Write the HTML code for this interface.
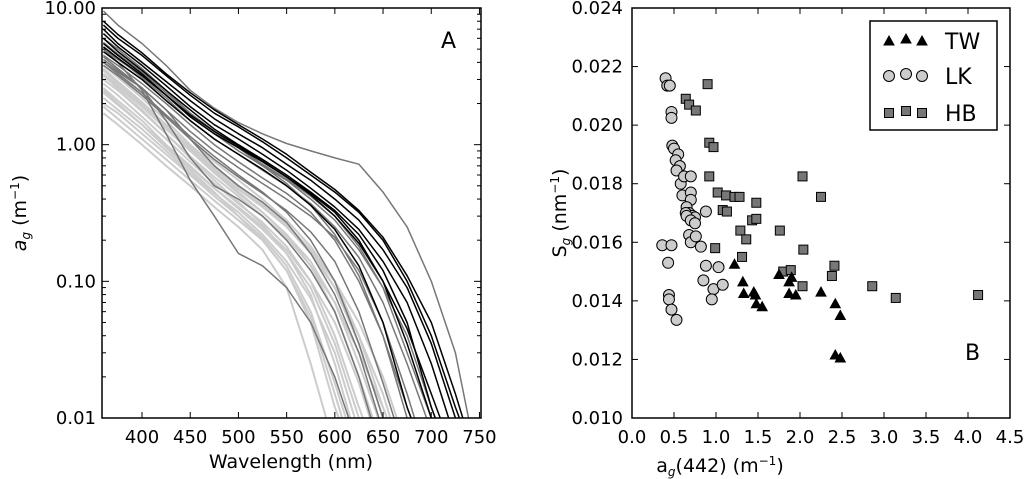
<!DOCTYPE html>
<html><head><meta charset="utf-8">
<style>
html,body{margin:0;padding:0;background:#fff;}
svg{display:block;font-family:"DejaVu Sans","Liberation Sans",sans-serif;}
</style></head>
<body>
<svg id="fig" width="1024" height="479" viewBox="0 0 1024 479">
<defs>
<clipPath id="clipA"><rect x="102" y="8" width="379" height="410"/></clipPath>
<clipPath id="clipB"><rect x="632" y="8" width="378" height="410"/></clipPath>
</defs>
<g id="panelA"></g>
<g id="panelB"></g>
</svg>
<script>
// ---------- Panel A data ----------
const wavelengths = [360,375,400,425,450,475,500,525,550,575,600,625,650,675,700,725,750];
const darkCurves = [
 [7.5,6,4.5,3.2,2.3,1.7,1.35,1.05,0.8,0.6,0.45,0.32,0.2,0.1,0.04,0.012,0.004],
 [6.5,5.2,3.8,2.7,1.9,1.4,1.1,0.85,0.65,0.48,0.35,0.24,0.14,0.07,0.025,0.007,0.003],
 [7,5.5,4,2.9,2.1,1.55,1.2,0.95,0.72,0.55,0.4,0.28,0.17,0.09,0.035,0.01,0.004],
 [5.5,4.5,3.3,2.3,1.6,1.2,0.95,0.75,0.58,0.43,0.3,0.19,0.1,0.045,0.015,0.005,0.003],
 [6,4.8,3.5,2.5,1.8,1.3,1.0,0.78,0.6,0.45,0.33,0.22,0.12,0.05,0.012,0.004,0.003],
 [8,6.4,4.7,3.3,2.4,1.8,1.4,1.1,0.85,0.63,0.47,0.33,0.21,0.11,0.05,0.015,0.004],
 [4.8,4.0,3.0,2.1,1.5,1.1,0.85,0.66,0.5,0.36,0.24,0.13,0.05,0.012,0.004,0.003,0.003],
 [5.2,4.3,3.2,2.3,1.65,1.25,0.98,0.76,0.58,0.44,0.32,0.2,0.1,0.035,0.01,0.003,0.003]
];
const grayCurves = [
 [9.5,7.5,5.5,3.8,2.5,1.85,1.45,1.2,1.02,0.9,0.8,0.72,0.45,0.25,0.1,0.03,0.004],
 [5,4.2,3.2,2.3,1.6,1.2,0.9,0.7,0.55,0.4,0.28,0.17,0.09,0.04,0.012,0.004,0.003],
 [4.5,3.8,2.8,2,1.4,1.0,0.75,0.57,0.44,0.32,0.2,0.1,0.04,0.01,0.004,0.003,0.003],
 [5,4,2.5,1.2,0.55,0.3,0.16,0.13,0.09,0.05,0.02,0.006,0.003,0.003,0.003,0.003,0.003],
 [4,3.4,2.6,1.5,0.8,0.5,0.4,0.3,0.2,0.12,0.06,0.02,0.005,0.003,0.003,0.003,0.003],
 [4.2,3.5,2.6,1.8,1.1,0.7,0.5,0.38,0.27,0.16,0.08,0.03,0.008,0.003,0.003,0.003,0.003],
 [6,5,3.6,2.5,1.7,1.25,0.95,0.7,0.52,0.36,0.22,0.11,0.04,0.012,0.004,0.003,0.003],
 [5.2,4.3,3.1,2.2,1.5,1.1,0.85,0.65,0.5,0.37,0.25,0.15,0.07,0.025,0.008,0.003,0.003],
 [4.4,3.6,2.6,1.8,1.25,0.9,0.68,0.52,0.4,0.3,0.21,0.12,0.05,0.015,0.004,0.003,0.003],
 [3.8,3.2,2.3,1.6,1.1,0.78,0.58,0.44,0.33,0.23,0.14,0.06,0.018,0.005,0.003,0.003,0.003],
 [5.6,4.6,3.4,2.4,1.7,1.25,0.95,0.72,0.56,0.42,0.3,0.18,0.09,0.03,0.01,0.003,0.003],
 [4.0,3.3,2.4,1.65,1.15,0.82,0.6,0.45,0.32,0.2,0.1,0.035,0.01,0.003,0.003,0.003,0.003]
];
const lightCurves = [
 [3,2.5,1.8,1.2,0.8,0.55,0.38,0.26,0.16,0.08,0.025,0.006,0.003,0.003,0.003,0.003,0.003],
 [2.5,2.0,1.4,0.95,0.65,0.45,0.3,0.2,0.12,0.05,0.012,0.004,0.003,0.003,0.003,0.003,0.003],
 [1.7,1.4,1.0,0.7,0.5,0.35,0.25,0.17,0.09,0.025,0.006,0.003,0.003,0.003,0.003,0.003,0.003],
 [2,1.7,1.2,0.85,0.6,0.42,0.3,0.21,0.13,0.06,0.018,0.005,0.003,0.003,0.003,0.003,0.003],
 [3.5,2.8,2,1.4,0.95,0.65,0.45,0.32,0.22,0.13,0.06,0.02,0.006,0.003,0.003,0.003,0.003],
 [2.8,2.3,1.6,1.1,0.75,0.52,0.37,0.27,0.18,0.1,0.04,0.012,0.004,0.003,0.003,0.003,0.003],
 [3.2,2.6,1.9,1.3,0.9,0.62,0.44,0.32,0.22,0.14,0.07,0.025,0.008,0.003,0.003,0.003,0.003],
 [2.2,1.8,1.3,0.9,0.62,0.44,0.32,0.22,0.14,0.075,0.03,0.008,0.003,0.003,0.003,0.003,0.003],
 [3.8,3.1,2.2,1.5,1.0,0.7,0.5,0.37,0.26,0.17,0.09,0.035,0.01,0.003,0.003,0.003,0.003],
 [2.6,2.1,1.5,1.0,0.7,0.48,0.34,0.24,0.16,0.09,0.035,0.01,0.003,0.003,0.003,0.003,0.003],
 [4.2,3.4,2.4,1.6,1.1,0.75,0.55,0.4,0.28,0.18,0.1,0.04,0.012,0.004,0.003,0.003,0.003],
 [3.0,2.5,1.75,1.2,0.82,0.58,0.42,0.3,0.21,0.13,0.07,0.03,0.012,0.004,0.003,0.003,0.003],
 [2.4,1.95,1.4,0.98,0.68,0.48,0.35,0.25,0.17,0.1,0.05,0.018,0.005,0.003,0.003,0.003,0.003],
 [3.3,2.7,1.95,1.35,0.92,0.64,0.47,0.35,0.25,0.16,0.09,0.04,0.015,0.004,0.003,0.003,0.003],
 [1.9,1.55,1.1,0.78,0.55,0.39,0.28,0.2,0.12,0.055,0.015,0.004,0.003,0.003,0.003,0.003,0.003],
 [3.6,2.9,2.05,1.4,0.96,0.67,0.49,0.36,0.26,0.17,0.1,0.05,0.02,0.006,0.003,0.003,0.003]
];
const xTicksA = [400,450,500,550,600,650,700,750];
const yTicksA = [10,1,0.1,0.01];
const yTickLabelsA = ["10.00","1.00","0.10","0.01"];
// ---------- Panel B data ----------
const twX = [1.22,1.32,1.33,1.45,1.47,1.48,1.55,1.75,1.87,1.9,1.87,1.95,2.25,2.42,2.48,2.42,2.48];
const twY = [15.25,14.65,14.25,14.3,14.2,13.9,13.8,14.9,14.65,14.8,14.25,14.2,14.3,13.9,13.5,12.15,12.05];
const lkX = [0.4,0.42,0.45,0.47,0.47,0.48,0.5,0.55,0.52,0.57,0.53,0.58,0.62,0.7,0.6,0.7,0.7,0.65,0.68,0.64,0.72,0.75,0.65,0.7,0.75,0.68,0.7,0.76,0.82,0.88,0.36,0.47,0.43,0.88,1.03,0.85,0.97,1.08,0.95,0.44,0.44,0.47,0.53];
const lkY = [21.6,21.35,21.35,20.45,20.25,19.3,19.2,19.0,18.8,18.6,18.45,18.0,18.25,18.25,17.6,17.7,17.45,17.2,17.0,17.0,16.9,16.85,16.9,16.75,16.65,16.25,16.0,16.2,15.85,17.05,15.9,15.9,15.3,15.2,15.15,14.7,14.4,14.55,14.05,14.2,14.05,13.7,13.35];
const hbX = [0.9,0.64,0.68,0.76,0.92,0.97,0.92,1.02,1.12,1.22,1.28,1.48,1.08,1.13,1.43,1.48,1.29,1.36,1.76,2.03,2.25,0.99,1.31,2.04,1.8,1.89,2.41,2.38,2.03,2.86,3.14,4.12];
const hbY = [21.4,20.9,20.7,20.5,19.4,19.25,18.25,17.7,17.6,17.55,17.55,17.35,17.1,17.05,16.75,16.8,16.4,16.1,16.4,18.25,17.55,15.8,15.5,15.75,15.0,15.05,15.2,14.85,14.5,14.5,14.1,14.2];
const xTicksB = [0,0.5,1,1.5,2,2.5,3,3.5,4,4.5];
const yTicksB = [10,12,14,16,18,20,22,24];

const NS = "http://www.w3.org/2000/svg";
function mk(tag, attrs, parent){const e=document.createElementNS(NS,tag);for(const k in attrs)e.setAttribute(k,attrs[k]);parent.appendChild(e);return e;}

// ----- Panel A -----
const A = document.getElementById('panelA');
const axL=102, axR=481, axT=8, axB=418;
const xA = w => axL + (w-358.5)/(751.6-358.5)*(axR-axL);
const yA = v => axT + (1 - Math.log10(v))*(axB-axT)/3;
const clipG = mk('g',{'clip-path':'url(#clipA)'},A);
function drawCurves(list, color, width, name){
  list.forEach((c,i)=>{
    const d = c.map((v,j)=>(j?'L':'M')+xA(wavelengths[j]).toFixed(1)+','+yA(Math.max(v,0.003)).toFixed(1)).join(' ');
    const p = mk('path',{d:d,fill:'none',stroke:color,'stroke-width':width,'stroke-linejoin':'round'},clipG);
    
    
  });
}
drawCurves(lightCurves,'#cccccc',2,'lk-spectrum');
drawCurves(grayCurves,'#777777',1.5,'hb-spectrum');
drawCurves(darkCurves,'#000000',1.5,'tw-spectrum');
const frameA = mk('rect',{x:axL,y:axT,width:axR-axL,height:axB-axT,fill:'none',stroke:'#000','stroke-width':1.5},A);


xTicksA.forEach(t=>{
  const x=xA(t);
  mk('line',{x1:x,x2:x,y1:axB,y2:axB-6,stroke:'#000'},A);
  mk('line',{x1:x,x2:x,y1:axT,y2:axT+6,stroke:'#000'},A);
  const tx=mk('text',{x:x,y:axB+25,'font-size':18,'text-anchor':'middle'},A);
  tx.textContent=t;
  
  
});
yTicksA.forEach((t,i)=>{
  const y=yA(t);
  mk('line',{x1:axL,x2:axL+7,y1:y,y2:y,stroke:'#000'},A);
  mk('line',{x1:axR,x2:axR-7,y1:y,y2:y,stroke:'#000'},A);
  const tx=mk('text',{x:axL-6,y:y+6,'font-size':18,'text-anchor':'end'},A);
  tx.textContent=yTickLabelsA[i];
  
  
  if(i<3){for(let m=2;m<10;m++){const ym=yA(t/10*m);
    mk('line',{x1:axL,x2:axL+4,y1:ym,y2:ym,stroke:'#000'},A);
    mk('line',{x1:axR,x2:axR-4,y1:ym,y2:ym,stroke:'#000'},A);}}
});
</script>
<script>
// ----- Panel B -----
const B = document.getElementById('panelB');
const bL=632, bR=1010, bT=8, bB=418;
const xB = v => bL + v/4.5*(bR-bL);
const yB = v => bB - (v-10)/14*(bB-bT);
const clipB = mk('g',{'clip-path':'url(#clipB)'},B);
function tri(cx,cy,s,parent){return mk('path',{d:`M${cx},${cy-s} L${cx+s},${cy+s*0.8} L${cx-s},${cy+s*0.8} Z`,fill:'#000',stroke:'#000','stroke-width':1},parent);}
function circ(cx,cy,parent){return mk('circle',{cx:cx,cy:cy,r:5.5,fill:'#cccccc',stroke:'#000','stroke-width':1},parent);}
function sq(cx,cy,parent){return mk('rect',{x:cx-4.5,y:cy-4.5,width:9,height:9,fill:'#777777',stroke:'#000','stroke-width':1},parent);}
hbX.forEach((v,i)=>{const e=sq(xB(v),yB(hbY[i]),clipB);
  
  });
lkX.forEach((v,i)=>{const e=circ(xB(v),yB(lkY[i]),clipB);
  
  });
twX.forEach((v,i)=>{const e=tri(xB(v),yB(twY[i]),5,clipB);
  
  });
const frameB = mk('rect',{x:bL,y:bT,width:bR-bL,height:bB-bT,fill:'none',stroke:'#000','stroke-width':1.5},B);


xTicksB.forEach(t=>{
  const x=xB(t);
  mk('line',{x1:x,x2:x,y1:bB,y2:bB-6,stroke:'#000'},B);
  mk('line',{x1:x,x2:x,y1:bT,y2:bT+6,stroke:'#000'},B);
  const tx=mk('text',{x:x,y:bB+25,'font-size':18,'text-anchor':'middle'},B);
  tx.textContent=t.toFixed(1);
  
  
});
yTicksB.forEach(t=>{
  const y=yB(t);
  mk('line',{x1:bL,x2:bL+6,y1:y,y2:y,stroke:'#000'},B);
  mk('line',{x1:bR,x2:bR-6,y1:y,y2:y,stroke:'#000'},B);
  const tx=mk('text',{x:bL-9,y:y+6,'font-size':18,'text-anchor':'end'},B);
  tx.textContent=(t/1000).toFixed(3);
  
  
});
// legend
const lg = mk('g',{},B);


mk('rect',{x:870,y:21,width:127,height:109,fill:'#fff',stroke:'#000','stroke-width':1.5},lg);
const lgY=[41,76,113], lgLab=["TW","LK","HB"];
lgY.forEach((y,k)=>{
  const ent=mk('g',{},lg);
  
  
  [889,906,922].forEach((x,j)=>{
    const yy = y + (j==1?-2:0);
    if(k==0) tri(x,yy,5,ent); else if(k==1) circ(x,yy,ent); else sq(x,yy,ent);
  });
  const t=mk('text',{x:945,y:y+8,'font-size':22},ent); t.textContent=lgLab[k];
});
</script>
<div style="position:absolute;left:0;top:0;width:1024px;height:479px;pointer-events:none;">
<svg width="1024" height="479" style="position:absolute;left:0;top:0">
<text x="441" y="48" font-size="22" font-family="DejaVu Sans, sans-serif">A</text>
<text x="965" y="360" font-size="22" font-family="DejaVu Sans, sans-serif">B</text>
<text x="291" y="468" font-size="19" text-anchor="middle" font-family="DejaVu Sans, sans-serif">Wavelength (nm)</text>
<text transform="translate(26,213) rotate(-90)" font-size="19" text-anchor="middle" font-family="DejaVu Sans, sans-serif"><tspan font-style="italic">a</tspan><tspan font-size="12" dy="4" font-style="italic">g</tspan><tspan dy="-4"> (m</tspan><tspan font-size="12" dy="-7">−1</tspan><tspan dy="7">)</tspan></text>
<text x="720" y="472" font-size="19" text-anchor="middle" font-family="DejaVu Sans, sans-serif">a<tspan font-size="12" dy="4" font-style="italic">g</tspan><tspan dy="-4">(442) (m</tspan><tspan font-size="12" dy="-7">−1</tspan><tspan dy="7">)</tspan></text>
<text transform="translate(566,213) rotate(-90)" font-size="19" text-anchor="middle" font-family="DejaVu Sans, sans-serif">S<tspan font-size="12" dy="4" font-style="italic">g</tspan><tspan dy="-4"> (nm</tspan><tspan font-size="12" dy="-7">−1</tspan><tspan dy="7">)</tspan></text>
</svg>
</div>
</body></html>
